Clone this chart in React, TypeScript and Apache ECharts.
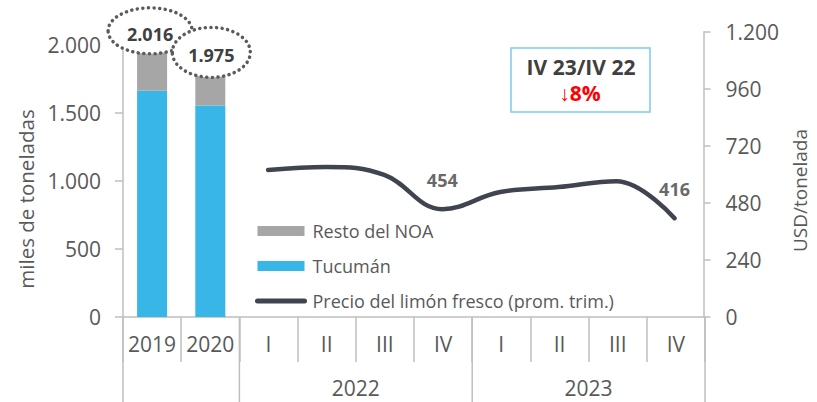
import React, { useEffect, useRef } from "react";
import * as echarts from "echarts";

const categories = ["2019", "2020", "I", "II", "III", "IV", "I", "II", "III", "IV"];
const yearGroups = [
  { label: "2022", start: 2, count: 4 },
  { label: "2023", start: 6, count: 4 },
];
const groupBoundaries = [0, 2, 6, 10];

const tucuman = [1664, 1555, null, null, null, null, null, null, null, null];
const restoNOA = [352, 420, null, null, null, null, null, null, null, null];
const precio = [null, null, 619, 632, 598, 454, 526, 547, 572, 416];
const labeledPrice = [5, 9];

const leftTicks = [0, 500, 1000, 1500, 2000];
const rightTicks = [0, 240, 480, 720, 960, 1200];

const FONT = "Open Sans";
const GREY_TXT = "#595959";
const DARK_TXT = "#404040";
const AXIS = "#bfbfbf";
const LINE = "#3f444f";
const PRICE_NAME = "Precio del limón fresco (prom. trim.)";

const fmt = (v: number) => String(Math.round(v)).replace(/\B(?=(\d{3})+(?!\d))/g, ".");

export default function App() {
  const ref = useRef<HTMLDivElement>(null);

  useEffect(() => {
    const chart = echarts.init(ref.current!, null, { renderer: "svg" });
    const gridPos = { left: 123, right: 112, bottom: 85 };
    chart.setOption({
      animation: false,
      textStyle: { fontFamily: FONT },
      grid: [
        { ...gridPos, top: 45 },
        { ...gridPos, top: 32 },
      ],
      legend: {
        orient: "vertical",
        left: 255,
        top: 222,
        padding: 0,
        itemWidth: 47,
        itemHeight: 10,
        itemGap: 17,
        textStyle: { fontSize: 18, color: GREY_TXT, fontFamily: FONT, padding: [0, 0, 0, 3] },
        data: [
          { name: "Resto del NOA", icon: "rect" },
          { name: "Tucumán", icon: "rect" },
          {
            name: PRICE_NAME,
            itemStyle: { opacity: 0 },
            lineStyle: { width: 5, color: LINE, cap: "round" },
          },
        ],
      },
      xAxis: [
        {
          type: "category",
          gridIndex: 0,
          data: categories,
          axisLine: { lineStyle: { color: AXIS, width: 1.5 } },
          axisTick: { show: true, length: 45, interval: 0, lineStyle: { color: AXIS, width: 1.5 } },
          axisLabel: { interval: 0, fontSize: 21, color: GREY_TXT, margin: 16, fontFamily: FONT },
        },
        {
          type: "category",
          gridIndex: 1,
          data: categories,
          show: false,
        },
      ],
      yAxis: [
        {
          type: "value",
          gridIndex: 0,
          min: leftTicks[0],
          max: leftTicks[leftTicks.length - 1],
          interval: leftTicks[1] - leftTicks[0],
          name: "miles de toneladas",
          nameLocation: "middle",
          nameRotate: 90,
          nameGap: 81,
          nameTextStyle: { fontSize: 20.5, color: GREY_TXT, fontFamily: FONT, padding: [0, 36, 0, 0] },
          axisLine: { show: true, lineStyle: { color: AXIS, width: 1.5 } },
          axisTick: { show: true, length: 8, lineStyle: { color: AXIS, width: 1.5 } },
          axisLabel: { fontSize: 21, color: GREY_TXT, margin: 22, formatter: fmt, fontFamily: FONT },
          splitLine: { show: false },
        },
        {
          type: "value",
          gridIndex: 1,
          position: "right",
          min: rightTicks[0],
          max: rightTicks[rightTicks.length - 1],
          interval: rightTicks[1] - rightTicks[0],
          name: "USD/tonelada",
          nameLocation: "middle",
          nameRotate: 90,
          nameGap: 68,
          nameTextStyle: { fontSize: 19, color: GREY_TXT, fontFamily: FONT, padding: [0, 32, 0, 0] },
          axisLine: { show: true, lineStyle: { color: AXIS, width: 1.5 } },
          axisTick: { show: true, length: 7, lineStyle: { color: AXIS, width: 1.5 } },
          axisLabel: { fontSize: 21, color: GREY_TXT, margin: 22, formatter: fmt, fontFamily: FONT },
          splitLine: { show: false },
        },
      ],
      series: [
        {
          name: "Tucumán",
          type: "bar",
          stack: "prod",
          xAxisIndex: 0,
          yAxisIndex: 0,
          barWidth: 30,
          itemStyle: { color: "#38b6e8" },
          data: tucuman,
        },
        {
          name: "Resto del NOA",
          type: "bar",
          stack: "prod",
          xAxisIndex: 0,
          yAxisIndex: 0,
          barWidth: 30,
          itemStyle: { color: "#a6a6a6" },
          data: restoNOA,
        },
        {
          name: PRICE_NAME,
          type: "line",
          xAxisIndex: 1,
          yAxisIndex: 1,
          smooth: 0.4,
          symbol: "none",
          lineStyle: { color: LINE, width: 4.5, cap: "round" },
          itemStyle: { color: LINE },
          data: precio,
        },
        {
          name: "precio-labels",
          type: "scatter",
          xAxisIndex: 1,
          yAxisIndex: 1,
          symbolSize: 0,
          silent: true,
          label: {
            show: true,
            position: "top",
            distance: 20,
            fontSize: 18,
            fontWeight: "bold",
            color: DARK_TXT,
            fontFamily: FONT,
            formatter: (p: any) => String(p.value),
          },
          data: precio.map((v, i) => (labeledPrice.includes(i) ? v : null)),
        },
      ],
    });

    const px = (i: number) => chart.convertToPixel({ xAxisIndex: 0 }, i) as number;
    const band = px(1) - px(0);
    const edge = (b: number) => px(0) - band / 2 + b * band;
    const yBase = chart.convertToPixel({ yAxisIndex: 0 }, 0) as number;
    const H = 402;

    const graphics: any[] = [];
    groupBoundaries.forEach((b) => {
      graphics.push({
        type: "line",
        z: 10,
        shape: { x1: edge(b), y1: yBase, x2: edge(b), y2: H },
        style: { stroke: AXIS, lineWidth: 1.5 },
      });
    });
    yearGroups.forEach((g) => {
      graphics.push({
        type: "text",
        z: 10,
        x: (edge(g.start) + edge(g.start + g.count)) / 2,
        y: 388,
        style: {
          text: g.label,
          fill: GREY_TXT,
          font: `21px "${FONT}"`,
          textAlign: "center",
          textVerticalAlign: "middle",
        },
      });
    });

    const nudges = [
      [-2, -12],
      [1, 4],
    ];
    const radii = [
      [42, 23],
      [39, 25],
    ];
    tucuman.forEach((t, i) => {
      if (t == null) return;
      const total = (t as number) + (restoNOA[i] as number);
      const cx = px(i) + nudges[i][0];
      const cy = (chart.convertToPixel({ yAxisIndex: 0 }, total) as number) + nudges[i][1];
      graphics.push({
        type: "ellipse",
        z: 20,
        shape: { cx, cy, rx: radii[i][0], ry: radii[i][1] },
        style: {
          fill: "#ffffff",
          stroke: "#5b5b5b",
          lineWidth: 3.5,
          lineDash: [0.1, 5.5],
          lineCap: "round",
        },
      });
      graphics.push({
        type: "text",
        z: 21,
        x: cx,
        y: cy + 3,
        style: {
          text: fmt(total),
          fill: DARK_TXT,
          font: `bold 18px "${FONT}"`,
          textAlign: "center",
          textVerticalAlign: "middle",
        },
      });
    });

    graphics.push({
      type: "rect",
      z: 20,
      shape: { x: 511, y: 48, width: 139, height: 64 },
      style: { fill: "#ffffff", stroke: "#7ecbeb", lineWidth: 1.5 },
    });
    graphics.push({
      type: "text",
      z: 21,
      x: 581,
      y: 67,
      style: {
        text: "IV 23/IV 22",
        fill: DARK_TXT,
        font: `bold 21px "${FONT}"`,
        textAlign: "center",
        textVerticalAlign: "middle",
      },
    });
    graphics.push({
      type: "text",
      z: 21,
      x: 580,
      y: 93,
      style: {
        text: "↓8%",
        fill: "#ff0000",
        font: `bold 21px "${FONT}"`,
        textAlign: "center",
        textVerticalAlign: "middle",
      },
    });

    chart.setOption({ graphic: graphics });
    return () => chart.dispose();
  }, []);

  return <div ref={ref} style={{ width: 817, height: 402, position: "absolute", left: 0, top: 0 }} />;
}
